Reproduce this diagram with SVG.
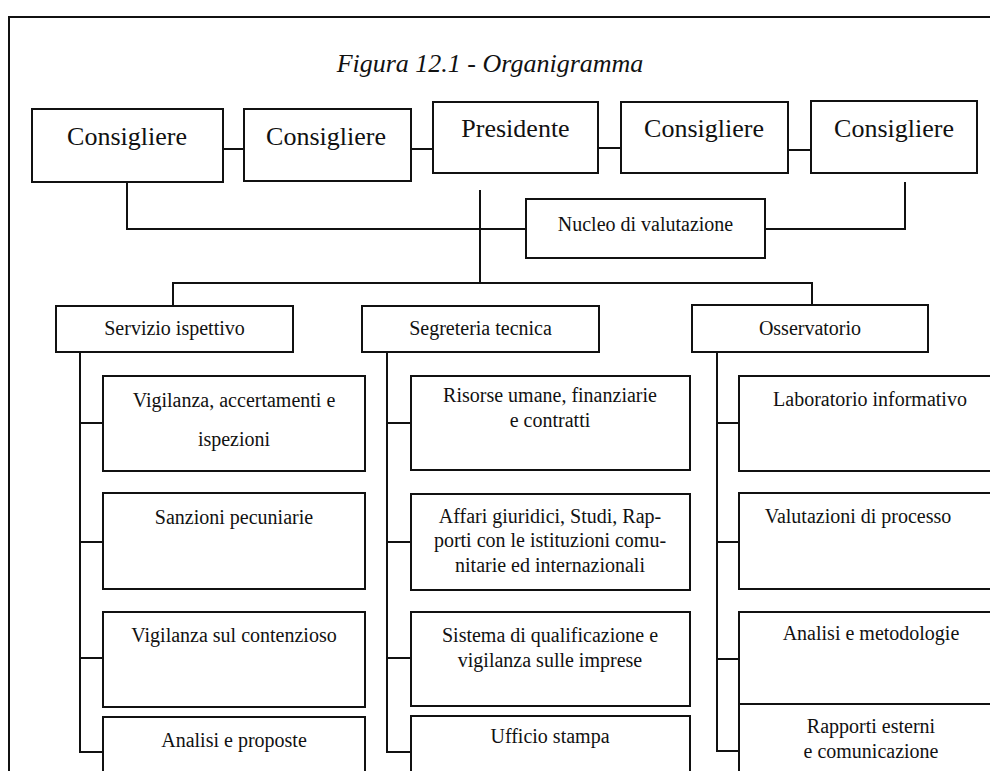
<svg xmlns="http://www.w3.org/2000/svg" width="990" height="771" viewBox="0 0 990 771">
<style>
.box{fill:#fff;stroke:#111;stroke-width:2}
.ln{fill:none;stroke:#111;stroke-width:2}
text{font-family:"Liberation Serif","Times New Roman",serif;fill:#111;text-anchor:middle}
.big{font-size:26px}
.mid{font-size:20px}
.title{font-size:26px;font-style:italic}
</style>
<rect width="990" height="771" fill="#fff"/>
<path class="ln" d="M9,771 V17 H990"/>
<text class="title" x="490" y="72">Figura 12.1 - Organigramma</text>
<g id="connectors">
<path class="ln" d="M223,149 H244 M411,149 H433 M598,148 H621 M788,150 H811"/>
<path class="ln" d="M127,182 V229 H526 M905,182 V229 H765 M480,190 V283"/>
<path class="ln" d="M173,306 V283 H812 V305"/>
<path class="ln" d="M80,352 V752 H103 M80,423 H103 M80,542 H103 M80,658 H103"/>
<path class="ln" d="M387,352 V752 H411 M387,423 H411 M387,542 H411 M387,658 H411"/>
<path class="ln" d="M717,352 V751 H739 M717,423 H739 M717,542 H739 M717,659 H739"/>
</g>
<g id="consigliere1"><rect class="box" x="32" y="109" width="191" height="73"/><text class="big" x="127" y="145">Consigliere</text></g>
<g id="consigliere2"><rect class="box" x="244" y="109" width="167" height="72"/><text class="big" x="326" y="145">Consigliere</text></g>
<g id="presidente"><rect class="box" x="433" y="102" width="165" height="71"/><text class="big" x="515.5" y="137">Presidente</text></g>
<g id="consigliere3"><rect class="box" x="621" y="102" width="167" height="71"/><text class="big" x="704" y="137">Consigliere</text></g>
<g id="consigliere4"><rect class="box" x="811" y="101" width="166" height="72"/><text class="big" x="894" y="137">Consigliere</text></g>
<g id="nucleo"><rect class="box" x="526" y="199" width="239" height="59"/><text class="mid" x="645.5" y="231">Nucleo di valutazione</text></g>
<g id="servizio"><rect class="box" x="56" y="306" width="237" height="46"/><text class="mid" x="174.5" y="335">Servizio ispettivo</text></g>
<g id="segreteria"><rect class="box" x="362" y="306" width="237" height="46"/><text class="mid" x="480.5" y="335">Segreteria tecnica</text></g>
<g id="osservatorio"><rect class="box" x="692" y="305" width="236" height="47"/><text class="mid" x="810" y="335">Osservatorio</text></g>
<g id="a1"><rect class="box" x="103" y="376" width="262" height="95"/><text class="mid" x="234" y="407">Vigilanza, accertamenti e</text><text class="mid" x="234" y="446">ispezioni</text></g>
<g id="a2"><rect class="box" x="103" y="493" width="262" height="96"/><text class="mid" x="234" y="524">Sanzioni pecuniarie</text></g>
<g id="a3"><rect class="box" x="103" y="612" width="262" height="95"/><text class="mid" x="234" y="642">Vigilanza sul contenzioso</text></g>
<g id="a4"><rect class="box" x="103" y="717" width="262" height="70"/><text class="mid" x="234" y="747">Analisi e proposte</text></g>
<g id="b1"><rect class="box" x="411" y="376" width="279" height="94"/><text class="mid" x="550" y="402">Risorse umane, finanziarie</text><text class="mid" x="550" y="427">e contratti</text></g>
<g id="b2"><rect class="box" x="411" y="494" width="279" height="96"/><text class="mid" x="550" y="523">Affari giuridici, Studi, Rap-</text><text class="mid" x="550" y="547">porti con le istituzioni comu-</text><text class="mid" x="550" y="572">nitarie ed internazionali</text></g>
<g id="b3"><rect class="box" x="411" y="612" width="279" height="94"/><text class="mid" x="550" y="642">Sistema di qualificazione e</text><text class="mid" x="550" y="667">vigilanza sulle imprese</text></g>
<g id="b4"><rect class="box" x="411" y="716" width="279" height="70"/><text class="mid" x="550" y="743">Ufficio stampa</text></g>
<g id="c1"><rect class="box" x="739" y="376" width="270" height="95"/><text class="mid" x="870" y="406">Laboratorio informativo</text></g>
<g id="c2"><rect class="box" x="739" y="493" width="270" height="96"/><text class="mid" x="858" y="523">Valutazioni di processo</text></g>
<g id="c3"><rect class="box" x="739" y="612" width="270" height="92"/><text class="mid" x="871" y="640">Analisi e metodologie</text></g>
<g id="c4"><rect class="box" x="739" y="704" width="270" height="80"/><text class="mid" x="871" y="733">Rapporti esterni</text><text class="mid" x="871" y="758">e comunicazione</text></g>
</svg>
